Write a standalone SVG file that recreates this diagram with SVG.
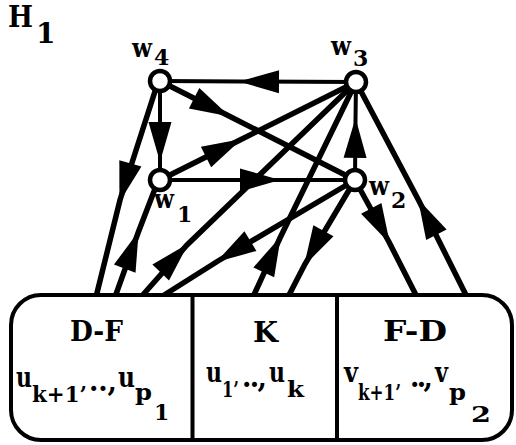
<svg xmlns="http://www.w3.org/2000/svg" width="516" height="445" viewBox="0 0 516 445">
<style>
text{font-family:"DejaVu Serif","Liberation Serif",serif;font-weight:bold;fill:#000}
.e{fill:none;stroke:#000;stroke-width:5.5;marker-mid:url(#ah)}
.t{stroke-width:4}
.n{fill:#fff;stroke:#000;stroke-width:4.5}
.m{font-size:27px}
.h{font-size:28px}
.s{font-size:22px}
.lbl{font-size:26px}
.d{font-size:22px}
</style>
<defs>
<marker id="ah" markerUnits="userSpaceOnUse" markerWidth="48" markerHeight="30" viewBox="-44 -15 48 30" refX="0" refY="0" orient="auto" overflow="visible">
<path d="M2,0 L-38,-11.5 L-38,11.5 Z" fill="#000"/>
</marker>
</defs>
<rect width="516" height="445" fill="#fff"/>
<g id="title"><text x="8" y="27" font-size="29" textLength="25" lengthAdjust="spacingAndGlyphs">H</text><text x="36" y="43" font-size="28">1</text></g>
<g id="connectors">
<path class="e t" d="M356,82 L241,81.5 L160,81"/>
<path class="e" d="M160,81 L228,115.5 L355,180"/>
<path class="e t" d="M160,81 L160,160 L160,180"/>
<path class="e" d="M160,180 L240,140 L356,82"/>
<path class="e t" d="M160,180 L278,180 L355,180"/>
<path class="e t" d="M355,180 L355.5,120 L356,82"/>
<path class="e" d="M158,82 L120,200 L96,297"/>
<path class="e" d="M115,297 L138,233 L158,181"/>
<path class="e" d="M141,297 L187,245 L356,82"/>
<path class="e" d="M355,180 L218,261 L161,297"/>
<path class="e" d="M253,297 L280,238 L356,82"/>
<path class="e" d="M355,180 L305,264 L288,297"/>
<path class="e" d="M355,180 L389,242 L417,297"/>
<path class="e" d="M467,297 L419,201 L356,82"/>
</g>
<g id="box">
<rect x="11" y="295" width="501" height="145" rx="30" ry="30" fill="#fff" stroke="#000" stroke-width="4"/>
<line x1="192.5" y1="295" x2="192.5" y2="440" stroke="#000" stroke-width="4"/>
<line x1="337" y1="295" x2="337" y2="440" stroke="#000" stroke-width="4"/>
</g>
<g id="DF">
<text class="h" x="70" y="341" textLength="53" lengthAdjust="spacingAndGlyphs">D-F</text>
<text class="m" x="16" y="387" textLength="16" lengthAdjust="spacingAndGlyphs">u</text>
<text class="s" x="32" y="402" textLength="55" lengthAdjust="spacingAndGlyphs">k+1’</text>
<text class="m" x="89" y="391" textLength="28" lengthAdjust="spacing">..,</text>
<text class="m" x="118" y="387" textLength="17" lengthAdjust="spacingAndGlyphs">u</text>
<text class="s" x="135" y="400" textLength="17" lengthAdjust="spacingAndGlyphs">p</text>
<text class="s" x="154" y="420">1</text>
</g>
<g id="K">
<text class="h" x="253" y="342" textLength="25" lengthAdjust="spacingAndGlyphs">K</text>
<text class="m" x="206" y="382" textLength="16" lengthAdjust="spacingAndGlyphs">u</text>
<text class="s" x="222" y="397" textLength="17" lengthAdjust="spacingAndGlyphs">1’</text>
<text class="m" x="242" y="387" textLength="25" lengthAdjust="spacing">..,</text>
<text class="m" x="269" y="382" textLength="16" lengthAdjust="spacingAndGlyphs">u</text>
<text class="s" x="287" y="397" textLength="17" lengthAdjust="spacingAndGlyphs">k</text>
</g>
<g id="FD">
<text class="h" x="383" y="341" textLength="64" lengthAdjust="spacingAndGlyphs">F-D</text>
<text class="m" x="344" y="382" textLength="14" lengthAdjust="spacingAndGlyphs">v</text>
<text class="s" x="358" y="400" textLength="43" lengthAdjust="spacingAndGlyphs">k+1’</text>
<text class="m" x="410" y="387" textLength="23" lengthAdjust="spacing">..,</text>
<text class="m" x="435" y="382" textLength="13" lengthAdjust="spacingAndGlyphs">v</text>
<text class="s" x="449" y="400" textLength="17" lengthAdjust="spacingAndGlyphs">p</text>
<text class="s" x="471" y="422" textLength="20" lengthAdjust="spacingAndGlyphs">2</text>
</g>
<g id="w4"><circle class="n" cx="160" cy="81" r="10"/><text class="lbl" x="132" y="57" textLength="20" lengthAdjust="spacingAndGlyphs">w</text><text class="d" x="154" y="65">4</text></g>
<g id="w3"><circle class="n" cx="356" cy="82" r="10"/><text class="lbl" x="331" y="55" textLength="20" lengthAdjust="spacingAndGlyphs">w</text><text class="d" x="353" y="66">3</text></g>
<g id="w1"><circle class="n" cx="160" cy="180" r="10"/><text class="lbl" x="154" y="208" textLength="20" lengthAdjust="spacingAndGlyphs">w</text><text class="d" x="177" y="222">1</text></g>
<g id="w2"><circle class="n" cx="355" cy="180" r="10"/><text class="lbl" x="369" y="195" textLength="20" lengthAdjust="spacingAndGlyphs">w</text><text class="d" x="391" y="208">2</text></g>
</svg>
